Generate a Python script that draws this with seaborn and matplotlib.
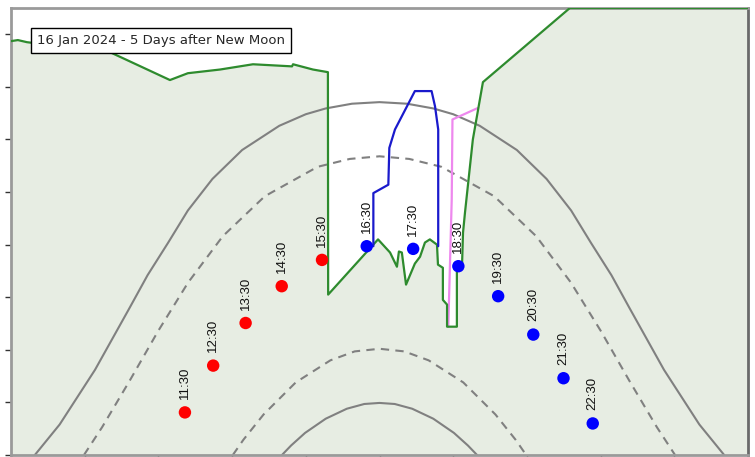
import matplotlib
matplotlib.use("Agg")
import matplotlib.pyplot as plt
import seaborn as sns
import pandas as pd

# Local horizon profile: azimuth / altitude (degrees)
horizon_az = [30.0, 32.8, 36.5, 49.9, 70.3, 94.7, 102.0, 115.1, 128.5, 144.4, 144.8,
              152.9, 159.0, 159.1, 179.4, 184.3, 187.1, 187.9, 189.1, 190.8, 194.4,
              196.5, 198.5, 200.5, 203.4, 203.8, 205.8, 205.8, 207.5, 207.5, 211.5,
              211.5, 213.6, 214.0, 214.8, 218.0, 222.1, 257.5, 330.0]
horizon_alt = [78.7, 78.9, 78.5, 77.7, 76.6, 71.3, 72.6, 73.3, 74.3, 73.9, 74.3,
               73.3, 72.8, 30.5, 41.0, 38.5, 35.8, 38.7, 38.5, 32.4, 36.4,
               37.7, 40.4, 41.0, 40.0, 36.2, 35.6, 29.5, 28.6, 24.4, 24.4,
               34.9, 36.2, 42.3, 46.1, 60.0, 70.9, 85.0, 85.0]

# Building outline (blue) and tree line (violet)
building_az = [177.5, 177.5, 183.6, 184.0, 186.3, 194.4, 201.2, 202.6, 203.9, 203.9]
building_alt = [39.7, 49.8, 51.4, 58.4, 61.9, 69.2, 69.2, 66.3, 61.9, 39.7]
tree_az = [208.0, 209.4, 209.7, 220.1]
tree_alt = [24.4, 48.6, 63.8, 66.0]

# Lunar standstill paths (major: solid, minor: dashed)
major_high_az = [39.7, 49.8, 64.2, 78.3, 85.6, 94.0, 102.0, 112.0, 124.1, 139.2, 150.0,
                 158.1, 168.8, 180.0, 191.2, 201.9, 210.0, 220.8, 235.9, 248.0, 258.0,
                 266.0, 274.4, 281.7, 295.8, 310.2, 320.3]
major_high_alt = [0.0, 5.8, 16.2, 28.0, 34.2, 40.4, 46.5, 52.5, 58.0, 62.6, 64.8,
                  65.9, 66.8, 67.1, 66.8, 65.9, 64.8, 62.6, 58.0, 52.5, 46.5,
                  40.4, 34.2, 28.0, 16.2, 5.8, 0.0]
minor_high_az = [59.7, 67.1, 78.4, 89.8, 102.1, 116.2, 133.3, 154.8, 167.9, 180.0,
                 192.1, 205.2, 226.7, 243.8, 257.9, 270.2, 281.6, 292.9, 300.3]
minor_high_alt = [0.0, 5.3, 14.2, 23.5, 32.8, 41.6, 49.2, 54.8, 56.3, 56.8,
                  56.3, 54.8, 49.2, 41.6, 32.8, 23.5, 14.2, 5.3, 0.0]
minor_low_az = [120.3, 124.6, 132.8, 145.9, 160.0, 169.9, 180.0,
                190.1, 200.0, 214.1, 227.2, 235.4, 239.7]
minor_low_alt = [0.0, 2.9, 7.7, 13.8, 18.0, 19.7, 20.2,
                 19.7, 18.0, 13.8, 7.7, 2.9, 0.0]
major_low_az = [140.3, 144.0, 149.7, 158.1, 166.7, 173.8, 180.0,
                186.2, 193.3, 201.9, 210.3, 216.0, 219.7]
major_low_alt = [0.0, 1.8, 4.2, 6.9, 8.8, 9.7, 9.9,
                 9.7, 8.8, 6.9, 4.2, 1.8, 0.0]

# Moon positions through the day
moon_times = ["11:30", "12:30", "13:30", "14:30", "15:30", "16:30",
              "17:30", "18:30", "19:30", "20:30", "21:30", "22:30"]
moon_az = [100.8, 112.3, 125.5, 140.2, 156.6, 174.8, 193.7, 212.1, 228.3, 242.6, 254.9, 266.8]
moon_alt = [8.1, 17.0, 25.1, 32.1, 37.1, 39.7, 39.2, 35.9, 30.2, 22.9, 14.6, 6.0]
moon_phase = ["day"] * 5 + ["night"] * 7

title_text = "16 Jan 2024 - 5 Days after New Moon"

sns.set_style("white")
plt.rcParams["font.family"] = ["DejaVu Sans"]

fig = plt.figure(figsize=(7.55, 4.57), dpi=100)
ax = fig.add_axes([11 / 755, 2 / 457, 737 / 755, 447 / 457])

ax.fill_between(horizon_az, 0, horizon_alt, color="#e7ede3", lw=0, zorder=1)


def trace(xs, ys, color, z, lw=1.6, **kw):
    sns.lineplot(x=xs, y=ys, sort=False, estimator=None, errorbar=None,
                 color=color, lw=lw, ax=ax, zorder=z, **kw)


grey = "#808080"
trace(major_high_az, major_high_alt, grey, 2, lw=1.5)
trace(major_low_az, major_low_alt, grey, 2, lw=1.5)
trace(minor_high_az, minor_high_alt, grey, 2, lw=1.5, linestyle=(0, (4, 3)))
trace(minor_low_az, minor_low_alt, grey, 2, lw=1.5, linestyle=(0, (4, 3)))

trace(tree_az, tree_alt, "#ee88ee", 2.8)
trace(horizon_az, horizon_alt, "#2e8b2e", 3)
trace(building_az, building_alt, "#1a1acc", 3)

moon = pd.DataFrame({"az": moon_az, "alt": moon_alt, "phase": moon_phase, "time": moon_times})
sns.scatterplot(data=moon, x="az", y="alt", hue="phase",
                palette={"day": "#ff0000", "night": "#0000ff"},
                s=80, linewidth=0, ax=ax, legend=False, zorder=4)
for _, row in moon.iterrows():
    ax.annotate(row["time"], (row["az"], row["alt"]), xytext=(0, 9.5),
                textcoords="offset points", rotation=90, ha="center", va="bottom",
                fontsize=9.5, family="Liberation Sans", color="#111111", zorder=5)

ax.text(0.0353, 0.927, title_text, transform=ax.transAxes, ha="left", va="center",
        fontsize=9.5, family="DejaVu Sans", zorder=6,
        bbox=dict(boxstyle="square,pad=0.45", fc="white", ec="black", lw=1))

ax.set_xlim(30, 330)
ax.set_ylim(0, 85)
ax.set_xticks(range(30, 331, 30))
ax.set_yticks(range(0, 81, 10))
ax.set_xticklabels([])
ax.set_yticklabels([])
ax.set_xlabel("")
ax.set_ylabel("")
ax.tick_params(axis="both", direction="out", length=4, width=1, color="#333333",
               left=True, bottom=True)
for side in ["left", "top", "bottom"]:
    ax.spines[side].set_color("#9a9a9a")
    ax.spines[side].set_linewidth(2)
ax.spines["right"].set_color("#6a6a6a")
ax.spines["right"].set_linewidth(2)

fig.savefig("out.png", dpi=100)
